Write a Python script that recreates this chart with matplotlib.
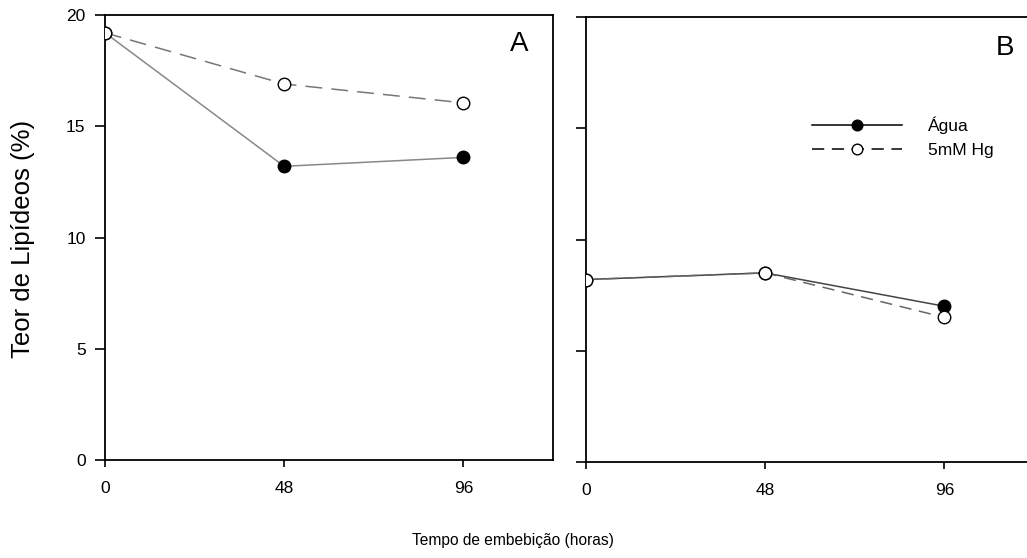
import matplotlib
matplotlib.use('Agg')
import matplotlib.pyplot as plt

plt.rcParams['font.family'] = ['Liberation Sans', 'DejaVu Sans']

# horas de embebicao
horas = [0, 48, 96]

# painel A
agua_a = [19.2, 13.2, 13.6]
hg_a = [19.2, 16.9, 16.05]

# painel B
agua_b = [8.2, 8.5, 7.0]
hg_b = [8.2, 8.5, 6.5]

yticks = [0, 5, 10, 15, 20]
xticks = [0, 48, 96]

W, H = 1027.0, 558.0
fig = plt.figure(figsize=(10.27, 5.58), dpi=100)

axA = fig.add_axes([105 / W, 1 - 460 / H, 448 / W, 445 / H])
axB = fig.add_axes([586 / W, 1 - 462 / H, 448 / W, 445 / H])


def style(ax, labels=True):
  ax.set_xlim(0, 120)
  ax.set_ylim(0, 20)
  ax.set_xticks(xticks)
  ax.set_yticks(yticks)
  ax.tick_params(axis='x', direction='out', length=5, width=1.2,
                 labelsize=12.5, pad=10)
  ax.tick_params(axis='y', direction='out', length=7, width=1.2,
                 labelsize=12.5, pad=7)
  if not labels:
    ax.set_yticklabels([])
  for s in ax.spines.values():
    s.set_linewidth(1.3)


# painel A
axA.plot(horas, agua_a, '-', color='#888888', lw=1.1, marker='o', ms=9,
         mfc='black', mec='black', zorder=3)
axA.plot(horas, hg_a, '--', color='#777777', lw=1.1, dashes=(11, 6), marker='o',
         ms=9, mfc='white', mec='black', zorder=3)
style(axA)
axA.text(0.925, 0.935, 'A', transform=axA.transAxes, fontsize=20,
         ha='center', va='center')

# painel B
axB.plot(horas, agua_b, '-', color='#444444', lw=1.1, marker='o', ms=9,
         mfc='black', mec='black', zorder=3, label='Água')
axB.plot(horas, hg_b, '--', color='#666666', lw=1.1, dashes=(8, 5), marker='o',
         ms=9, mfc='white', mec='black', zorder=4, label='5mM Hg')
style(axB, labels=False)
axB.spines['right'].set_visible(False)
axB.text(0.935, 0.93, 'B', transform=axB.transAxes, fontsize=20,
         ha='center', va='center')

leg = axB.legend(loc='upper left', bbox_to_anchor=(0.504, 0.777), frameon=False,
                 fontsize=12.5, handlelength=5.2, handletextpad=1.5,
                 labelspacing=0.55, borderaxespad=0, borderpad=0,
                 markerscale=0.85)
for h in leg.legend_handles:
  h.set_color('black')

fig.text(513 / W, 1 - 541 / H, 'Tempo de embebição (horas)', fontsize=11.2,
         ha='center', va='center')
fig.text(23 / W, 1 - 239 / H, 'Teor de Lipídeos (%)', fontsize=18.5,
         ha='center', va='center', rotation=90)

fig.savefig('out.png', dpi=100)
